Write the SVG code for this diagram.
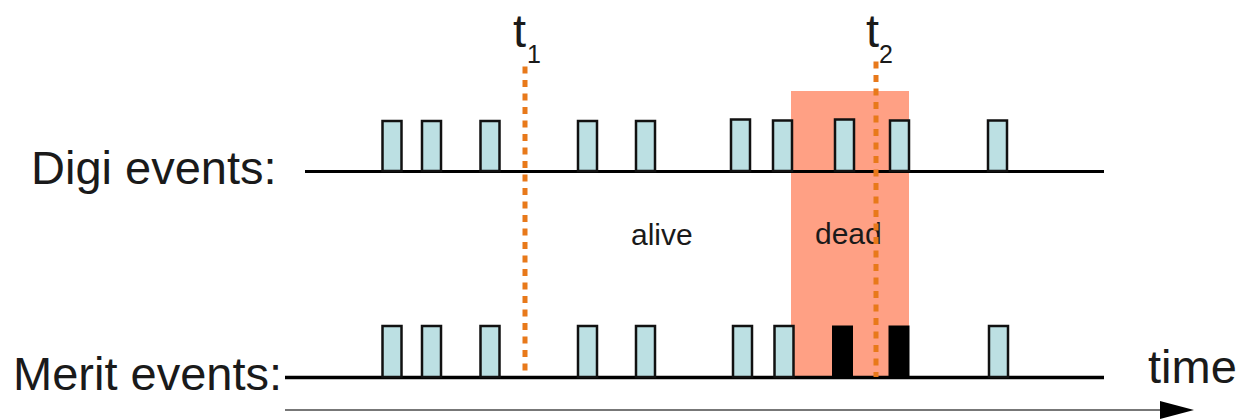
<svg xmlns="http://www.w3.org/2000/svg" width="1240" height="419" viewBox="0 0 1240 419">
<defs>
<style>
.lbl{font-family:"Liberation Sans",Arial,sans-serif;fill:#1a1a1a}
.big{font-size:47px}
.mid{font-size:30px}
.sub{font-size:25px}
.ev{fill:#bce0e3;stroke:#111;stroke-width:2.5}
.bk{fill:#000;stroke:#000;stroke-width:1}
.axis{stroke:#000;stroke-width:3.5;fill:none}
.tm{stroke:#e8791a;stroke-width:5;stroke-dasharray:7 6.5;fill:none}
</style>
<marker id="arr" viewBox="0 0 10 10" refX="10" refY="5" markerWidth="10" markerHeight="10" markerUnits="userSpaceOnUse" orient="auto">
<path d="M0,0 L10,5 L0,10 Z" fill="#000"/>
</marker>
</defs>
<rect width="1240" height="419" fill="#fff"/>
<g id="dead-zone"><rect x="791" y="91" width="118" height="286" fill="#ffa084"/></g>
<g id="labels">
<text class="lbl big" x="31" y="184">Digi events:</text>
<text class="lbl big" x="13" y="390">Merit events:</text>
<text class="lbl big" x="1148" y="383">time</text>
<text class="lbl mid" x="631" y="245">alive</text>
<text class="lbl mid" x="815" y="244">dead</text>
</g>
<g id="connectors">
<line class="axis" x1="305" y1="171.5" x2="1104" y2="171.5" style="stroke-width:3"/>
<line class="axis" x1="285" y1="377.5" x2="1104" y2="377.5"/>
<line x1="285" y1="410" x2="1160" y2="410" stroke="#777" stroke-width="2"/>
<path d="M1160,401 L1194,410 L1160,419 Z" fill="#000"/>
</g>
<g id="digi-events">
<rect class="ev" x="382.5" y="121" width="19" height="50"/>
<rect class="ev" x="422" y="121" width="19" height="50"/>
<rect class="ev" x="480.5" y="121" width="19" height="50"/>
<rect class="ev" x="578" y="121" width="19" height="50"/>
<rect class="ev" x="636" y="121" width="19" height="50"/>
<rect class="ev" x="731" y="119.5" width="19" height="51.5"/>
<rect class="ev" x="773" y="120.5" width="19" height="50.5"/>
<rect class="ev" x="835" y="119.5" width="19" height="51.5"/>
<rect class="ev" x="890" y="120.5" width="19" height="50.5"/>
<rect class="ev" x="988" y="120.5" width="19" height="50.5"/>
</g>
<g id="merit-events">
<rect class="ev" x="382.5" y="326" width="19" height="51"/>
<rect class="ev" x="422" y="326" width="19" height="51"/>
<rect class="ev" x="480.5" y="326" width="19" height="51"/>
<rect class="ev" x="578" y="326" width="19" height="51"/>
<rect class="ev" x="636" y="326" width="19" height="51"/>
<rect class="ev" x="733" y="326" width="19" height="51"/>
<rect class="ev" x="774.5" y="326" width="19" height="51"/>
<rect class="bk" x="832.5" y="326" width="20" height="51"/>
<rect class="bk" x="889" y="326" width="20" height="51"/>
<rect class="ev" x="989" y="326" width="19" height="51"/>
</g>
<g id="t1">
<line class="tm" x1="525" y1="66.5" x2="525" y2="377"/>
<text class="lbl big" x="513" y="47">t</text>
<text class="lbl sub" x="527" y="63">1</text>
</g>
<g id="t2">
<line class="tm" x1="876" y1="61.5" x2="876" y2="377"/>
<text class="lbl big" x="866" y="47">t</text>
<text class="lbl sub" x="879" y="63">2</text>
</g>
</svg>
